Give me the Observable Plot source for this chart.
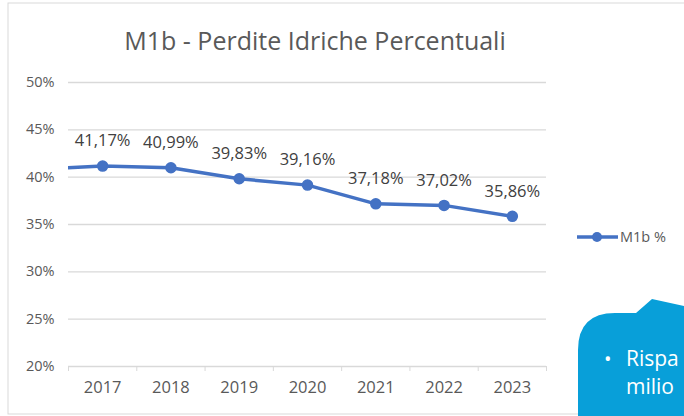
<!DOCTYPE html>
<html><head><meta charset="utf-8">
<script src="https://cdn.jsdelivr.net/npm/d3@7"></script>
<script src="https://cdn.jsdelivr.net/npm/@observablehq/plot@0.6"></script>
<style>
html,body{margin:0;padding:0;background:#fff;}
svg{display:block;}
</style></head>
<body><div id="chart"></div>
<script>
const years = [2017, 2018, 2019, 2020, 2021, 2022, 2023];
const values = [41.17, 40.99, 39.83, 39.16, 37.18, 37.02, 35.86];
const labels = ["41,17%", "40,99%", "39,83%", "39,16%", "37,18%", "37,02%", "35,86%"];
// previous point implied by the line entering from the left edge
const prevYear = [2016];
const prevValue = [40.85];
const yTicks = [20, 25, 30, 35, 40, 45, 50];
const title = "M1b - Perdite Idriche Percentuali";
const seriesName = "M1b %";

const data = years.map((y, i) => ({year: y, value: values[i], label: labels[i]}));
const lineData = [{year: prevYear[0], value: prevValue[0]}, ...data];
const bounds = d3.range(years[0] - 0.5, years[years.length - 1] + 1, 1);

const font = "'Open Sans', sans-serif";
const blue = "#4472C4";

const plot = Plot.plot({
  width: 684, height: 416,
  marginLeft: 68, marginRight: 138, marginTop: 82, marginBottom: 50,
  style: {fontFamily: font, background: "#fff"},
  x: {domain: [years[0] - 0.5, years[years.length - 1] + 0.5]},
  y: {domain: [20, 50]},
  marks: [
    Plot.ruleY(yTicks, {stroke: "#d9d9d9", strokeWidth: 1.3}),
    Plot.axisY({ticks: yTicks, tickSize: 0, tickPadding: 14, tickFormat: d => d + "%", fontSize: 14.5, fill: "#595959", label: null}),
    Plot.axisX({ticks: bounds, tickSize: 5, tickFormat: () => "", stroke: "#d9d9d9", label: null}),
    Plot.axisX({ticks: years, tickSize: 0, tickPadding: 15, tickFormat: d => String(d), fontSize: 16.5, fill: "#595959", label: null}),
    Plot.line(lineData, {x: "year", y: "value", stroke: blue, strokeWidth: 3.5, clip: true}),
    Plot.dot(data, {x: "year", y: "value", r: 5, fill: blue, stroke: blue}),
    Plot.text(data, {x: "year", y: "value", text: "label", dy: -25, fontSize: 16.5, fill: "#404040"})
  ]
});

const svg = d3.select(plot);
// outer border
svg.insert("rect", ":first-child").attr("x", 8).attr("y", 3).attr("width", 690).attr("height", 411)
  .attr("fill", "#fff").attr("stroke", "#d9d9d9").attr("stroke-width", 1);
// title
svg.append("text").attr("x", 315).attr("y", 50).attr("text-anchor", "middle")
  .attr("font-size", 25).attr("fill", "#595959").attr("font-family", font).text(title);
// legend
const lg = svg.append("g").attr("text-anchor", "start");
lg.append("line").attr("x1", 577).attr("x2", 618).attr("y1", 237).attr("y2", 237).attr("stroke", blue).attr("stroke-width", 3.5);
lg.append("circle").attr("cx", 597).attr("cy", 237).attr("r", 5).attr("fill", blue);
lg.append("text").attr("x", 620).attr("y", 242).attr("font-size", 14.5).attr("fill", "#595959").attr("font-family", font).text(seriesName);
// callout
const co = svg.append("g").attr("text-anchor", "start").attr("fill", "#fff").attr("font-family", font);
co.append("path").attr("d", "M578,416 L578,350 Q578,313 615,313 L636,313 L652,299 L684,306 L684,416 Z").attr("fill", "#089fd9");
co.append("text").attr("x", 604).attr("y", 366).attr("font-size", 20).text("•");
co.append("text").attr("x", 626).attr("y", 366).attr("font-size", 21).text("Rispa");
co.append("text").attr("x", 626).attr("y", 394).attr("font-size", 21).text("milio");

document.getElementById("chart").appendChild(plot);
</script></body></html>
